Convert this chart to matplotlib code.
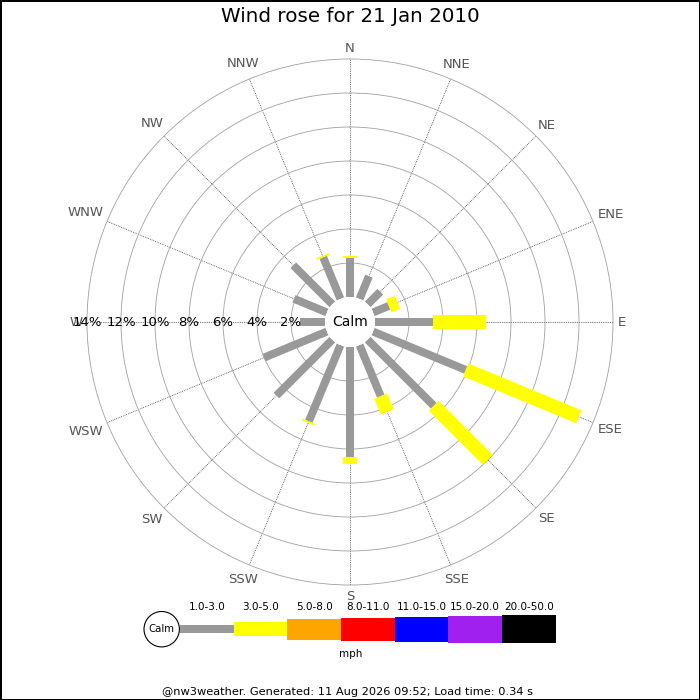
import numpy as np
import matplotlib
matplotlib.use("Agg")
import matplotlib.pyplot as plt
from matplotlib.patches import Circle

# ---------------- data ----------------
directions = ['N', 'NNE', 'NE', 'ENE', 'E', 'ESE', 'SE', 'SSE',
              'S', 'SSW', 'SW', 'WSW', 'W', 'WNW', 'NW', 'NNW']
band_1_3 = [2.3, 1.45, 1.05, 1.0, 3.4, 5.9, 5.5, 3.25,
            6.45, 4.85, 4.65, 4.0, 1.45, 2.1, 3.25, 2.65]
band_3_5 = [0.1, 0.0, 0.0, 0.55, 3.1, 7.2, 4.5, 1.0,
            0.45, 0.1, 0.0, 0.0, 0.0, 0.0, 0.0, 0.1]
ring_pcts = [2, 4, 6, 8, 10, 12, 14]
legend_labels = ['1.0-3.0', '3.0-5.0', '5.0-8.0', '8.0-11.0',
                 '11.0-15.0', '15.0-20.0', '20.0-50.0']
legend_colors = ['#999999', '#ffff00', '#ffa500', '#ff0000',
                 '#0000ff', '#a020f0', '#000000']
legend_thick = [7.7, 14, 20.7, 23, 25, 26.7, 28.3]
title = 'Wind rose for 21 Jan 2010'
footer = '@nw3weather. Generated: 11 Aug 2026 09:52; Load time: 0.34 s'

# ---------------- layout ----------------
W = H = 700
DPI = 100
cx, cy = 350, 322          # centre in pixels (y from top)
R_out = 263                # pixel radius of 14% ring
calm_px = 25               # calm hole radius in pixels
rmax = 14
px_per_unit = (R_out - calm_px) / rmax
px2pt = 72 / DPI

fig = plt.figure(figsize=(W / DPI, H / DPI), dpi=DPI)
fig.patch.set_facecolor('white')
fig.patch.set_edgecolor('black')
fig.patch.set_linewidth(2)

ax = fig.add_axes([(cx - R_out) / W, (H - cy - R_out) / H,
                   2 * R_out / W, 2 * R_out / H], projection='polar')
ax.set_theta_zero_location('N')
ax.set_theta_direction(-1)
ax.set_rlim(0, rmax)
ax.set_rorigin(-calm_px / px_per_unit)
ax.patch.set_facecolor('none')
ax.patch.set_edgecolor('none')
ax.patch.set_linewidth(0)
for sp in ax.spines.values():
    sp.set_edgecolor('none')
    sp.set_linewidth(0)
    sp.set_visible(False)

angles_deg = np.arange(len(directions)) * 360 / len(directions)
thetas = np.deg2rad(angles_deg)

ax.set_rgrids(ring_pcts, labels=[''] * len(ring_pcts))
ax.set_thetagrids(angles_deg, labels=[''] * len(directions))
ax.yaxis.grid(True, color='#a0a0a0', lw=0.6, ls='-')
ax.xaxis.grid(True, color='#444444', lw=0.6, ls=(0, (1, 1.2)))
ax.set_axisbelow(True)
ax.tick_params(length=0)
for gl in ax.yaxis.get_gridlines():
    gl.set_clip_on(False)

# bars
gray_lw = 8 * px2pt
yel_lw = 14 * px2pt
for th, g, y in zip(thetas, band_1_3, band_3_5):
    if g > 0:
        ax.plot([th, th], [0, g], color=legend_colors[0], lw=gray_lw,
                solid_capstyle='butt', zorder=3)
    if y > 0:
        ax.plot([th, th], [g, g + y], color=legend_colors[1], lw=yel_lw,
                solid_capstyle='butt', zorder=4)

# direction labels: box just outside a circle of radius r0 (pixels)
renderer = fig.canvas.get_renderer()
r0_px = 267.5
for th, name in zip(thetas, directions):
    t = ax.text(th, rmax, name, ha='center', va='center', color='#555555',
                fontsize=9.5, clip_on=False)
    bb = t.get_window_extent(renderer)
    hw, hh = bb.width / 2, bb.height / 2
    off = hw * abs(np.sin(th)) + hh * abs(np.cos(th))
    t.set_position((th, (r0_px + off - calm_px) / px_per_unit))

# percent labels along W axis
for p in ring_pcts:
    ax.text(np.deg2rad(270), p, f'{p}%', ha='center', va='center',
            color='black', fontsize=9.5, zorder=5)

ax.text(0.5, 0.5, 'Calm', transform=ax.transAxes, ha='center',
        va='center', fontsize=10, zorder=6)

# ---------------- overlay (title / legend / footer) in pixel units ----------------
ov = fig.add_axes([0, 0, 1, 1])
ov.set_xlim(0, W)
ov.set_ylim(H, 0)
ov.axis('off')
ov.patch.set_alpha(0)

ov.text(350, 17, title, ha='center', va='center', fontsize=14.3)

leg_x0, seg_w, leg_y = 180, 53.67, 629.2
xs = leg_x0 + seg_w * np.arange(len(legend_labels))
ov.bar(xs, legend_thick, width=seg_w, bottom=[leg_y - t / 2 for t in legend_thick],
       color=legend_colors, align='edge', linewidth=0)
for x, lab in zip(xs, legend_labels):
    ov.text(x + seg_w / 2, 607, lab, ha='center', va='center', fontsize=7.5)
ov.add_patch(Circle((161.7, leg_y), 17.7, facecolor='white',
                    edgecolor='black', lw=0.8, zorder=5))
ov.text(161.7, leg_y, 'Calm', ha='center', va='center', fontsize=7.3, zorder=6)
ov.text(351, 654, 'mph', ha='center', va='center', fontsize=7.5)
ov.text(347, 692, footer, ha='center', va='center', fontsize=8.2)

fig.savefig('out.png', dpi=DPI, facecolor=fig.get_facecolor(),
            edgecolor=fig.get_edgecolor())
